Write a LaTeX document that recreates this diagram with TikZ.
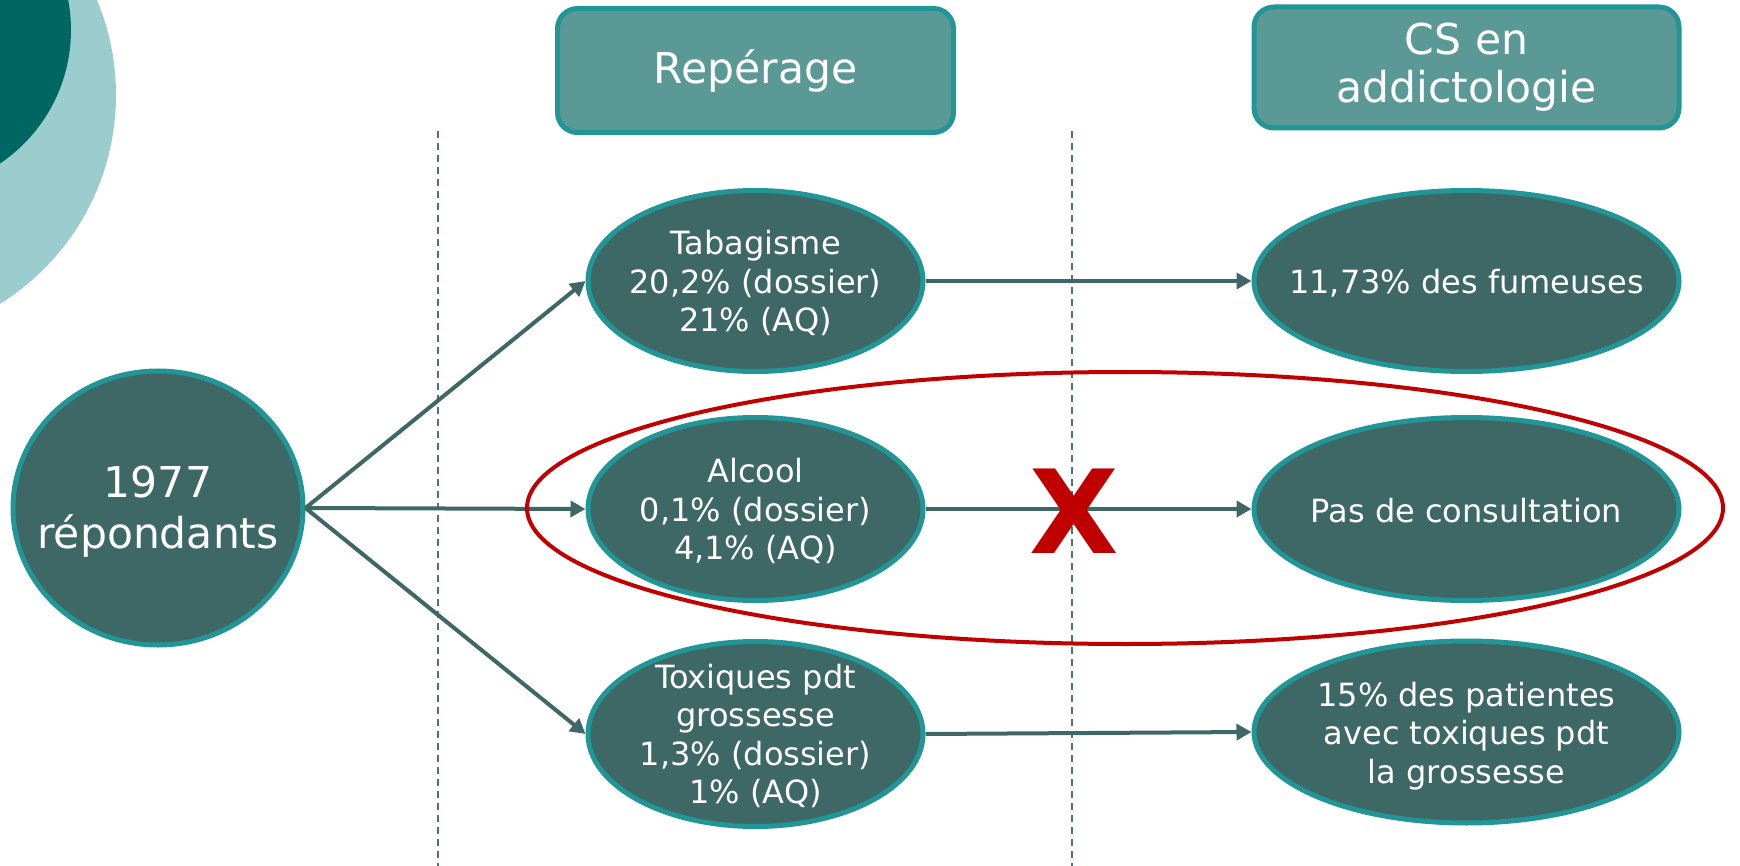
\documentclass[tikz,border=0pt]{standalone}
\usepackage{fontspec}
\setmainfont{DejaVu Sans}
\usetikzlibrary{shapes.geometric,arrows.meta}
\definecolor{nodefill}{HTML}{3D6866}
\definecolor{nodeedge}{HTML}{229696}
\definecolor{hdrfill}{HTML}{5B9997}
\definecolor{lightc}{HTML}{9BCDCE}
\definecolor{darkc}{HTML}{006662}
\definecolor{linec}{HTML}{3E6765}
\definecolor{dashc}{HTML}{4A7472}
\definecolor{xred}{HTML}{C00000}
\tikzset{
  oval/.style={ellipse, draw=nodeedge, fill=nodefill, line width=5pt, inner sep=0pt},
  hdr/.style={rectangle, rounded corners=20pt, draw=nodeedge, fill=hdrfill, line width=5pt, inner sep=0pt},
  etxt/.style={text=white, align=center, inner sep=0pt, font=\fontsize{32}{38.5}\selectfont},
  htxt/.style={text=white, align=center, inner sep=0pt, font=\fontsize{42.5}{48}\selectfont},
  ctxt/.style={text=white, align=center, inner sep=0pt, font=\fontsize{42.5}{51}\selectfont},
  arr/.style={draw=linec, line width=4pt, -{Triangle[length=15pt,width=16pt]}},
  sep/.style={draw=dashc, line width=2.3pt, dash pattern=on 7pt off 5pt},
}
\begin{document}
\begin{tikzpicture}[x=1pt,y=-1pt]
\useasboundingbox (0,0) rectangle (1740,866);
\begin{scope}
\clip (0,0) rectangle (1740,866);
\fill[lightc] (-130,95) circle (246);
\fill[darkc] (-90,30) circle (161);
\end{scope}

% separators
\coordinate (s1t) at (438,131);
\coordinate (s1b) at (438,866);
\coordinate (s2t) at (1072,131);
\coordinate (s2b) at (1072,866);
\draw[sep] (s1t) -- (s1b);
\draw[sep] (s2t) -- (s2b);

% headers
\node[hdr, minimum width=396pt, minimum height=124pt] (h1) at (755.5,70.5) {};
\node[htxt] (h1t) at (h1.center) {Repérage};
\node[hdr, minimum width=425pt, minimum height=121pt] (h2) at (1466.5,67.5) {};
\node[htxt] (h2t) at (h2.center) {CS en\\addictologie};

% source
\node[oval, minimum width=290pt, minimum height=274pt] (src) at (158,508) {};
\node[ctxt] (srct) at (158,512) {1977\\répondants};

% middle column
\node[oval, minimum width=335pt, minimum height=181pt] (tab) at (755.5,281) {};
\node[etxt] (tabt) at (755.5,283) {Tabagisme\\20,2\% (dossier)\\21\% (AQ)};
\node[oval, minimum width=335pt, minimum height=183pt] (alc) at (755.5,509) {};
\node[etxt] (alct) at (755.5,511) {Alcool\\0,1\% (dossier)\\4,1\% (AQ)};
\node[oval, minimum width=335pt, minimum height=185pt] (tox) at (755.5,734) {};
\node[etxt] (toxt) at (755.5,736) {Toxiques pdt\\grossesse\\1,3\% (dossier)\\1\% (AQ)};

% right column
\node[oval, minimum width=425pt, minimum height=181pt] (fum) at (1466.5,281) {};
\node[etxt] (fumt) at (1466.5,283) {11,73\% des fumeuses};
\node[oval, minimum width=425pt, minimum height=183pt] (pas) at (1466.5,509) {};
\node[etxt] (past) at (1466.5,511) {Pas de consultation};
\node[oval, minimum width=425pt, minimum height=182pt] (pat) at (1466.5,732) {};
\node[etxt] (patt) at (1466.5,736) {15\% des patientes\\avec toxiques pdt\\la grossesse};

% arrows
\draw[arr] (src.east) -- (tab.west);
\draw[arr] (src.east) -- (alc.west);
\draw[arr] (src.east) -- (tox.west);
\draw[arr] (tab.east) -- (fum.west);
\draw[arr] (alc.east) -- (pas.west);
\draw[arr] (tox.east) -- (pat.west);

% red highlight
\node[ellipse, draw=xred, line width=4pt, minimum width=1196pt, minimum height=272pt, inner sep=0pt] (hl) at (1125,508) {};
\node[text=xred, font=\fontsize{116}{116}\selectfont\bfseries, inner sep=0pt] (xm) at (1074,511) {X};
\end{tikzpicture}
\end{document}
